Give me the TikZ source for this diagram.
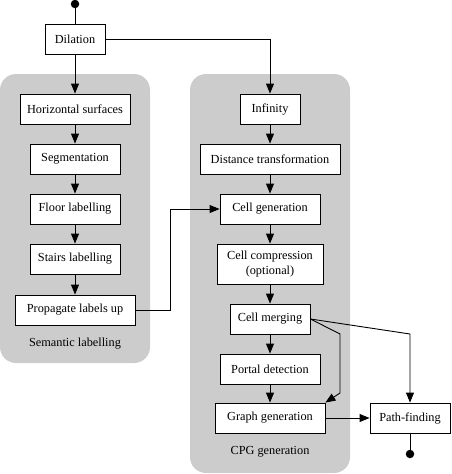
\documentclass[tikz,border=0pt]{standalone}
\usepackage{fontspec}
\setmainfont{Liberation Serif}
\newfontfamily\diagfont{Liberation Serif}
\usetikzlibrary{arrows.meta}
\begin{document}
\begin{tikzpicture}[x=1pt,y=-1pt,
  box/.style={draw, fill=white, line width=0.9pt, minimum height=30pt, inner sep=0pt, align=center, font=\diagfont\fontsize{12.3}{14.5}\selectfont},
  lbl/.style={font=\diagfont\fontsize{12.3}{14.5}\selectfont},
  panel/.style={fill=black!20, rounded corners=16pt},
  conn/.style={line width=0.9pt},
  arr/.style={conn, -{Triangle[length=10pt,width=8pt]}},
  dot/.style={circle, fill=black, inner sep=0pt, minimum size=8.5pt}]
\useasboundingbox (0,0) rectangle (451,474);
% panels
\fill[panel] (0,74) rectangle (150,363);
\fill[panel] (190,74) rectangle (350,473);
% nodes
\node[dot] (top) at (75,4) {};
\node[box, minimum width=60pt] (dil) at (75,39) {Dilation};
\node[box, minimum width=110pt] (hs) at (75,109) {Horizontal surfaces};
\node[box, minimum width=90pt] (seg) at (75,159) {Segmentation};
\node[box, minimum width=90pt] (fl) at (75,209) {Floor labelling};
\node[box, minimum width=90pt] (sl) at (75,259) {Stairs labelling};
\node[box, minimum width=120pt] (pl) at (75,310) {Propagate labels up};
\node[lbl] (sem) at (75,344) {Semantic labelling};
\node[box, minimum width=60pt] (inf) at (270,109) {Infinity};
\node[box, minimum width=140pt] (dt) at (270,159) {Distance transformation};
\node[box, minimum width=100pt] (cg) at (270,209) {Cell generation};
\node[box, minimum width=106pt, minimum height=40pt] (cc) at (270,264) {Cell compression\\(optional)};
\node[box, minimum width=80pt] (cm) at (270,319) {Cell merging};
\node[box, minimum width=100pt] (pd) at (270,369) {Portal detection};
\node[box, minimum width=110pt] (gg) at (270,418) {Graph generation};
\node[lbl] (cpg) at (270,452) {CPG generation};
\node[box, minimum width=80pt] (pf) at (410,418) {Path-finding};
\node[dot] (bot) at (410,454) {};
\coordinate (j1) at (170,310);
\coordinate (j2) at (170,209);
\coordinate (m1) at (340,334);
\coordinate (m2) at (340,393);
\coordinate (m3) at (410,334);
% connectors
\draw[conn] (top.center) -- (dil.north);
\draw[arr] (dil) -- (hs);
\draw[arr] (dil.east) -| (inf.north);
\draw[arr] (hs) -- (seg);
\draw[arr] (seg) -- (fl);
\draw[arr] (fl) -- (sl);
\draw[arr] (sl) -- (pl);
\draw[arr] (pl.east) -- (j1) -- (j2) -- (cg.west);
\draw[arr] (inf) -- (dt);
\draw[arr] (dt) -- (cg);
\draw[arr] (cg) -- (cc);
\draw[arr] (cc) -- (cm);
\draw[arr] (cm) -- (pd);
\draw[arr] (pd) -- (gg);
\draw[arr] (cm.east) -- (m1) -- (m2) -- (gg.north east);
\draw[arr] (cm.east) -- (m3) -- (pf.north);
\draw[arr] (gg) -- (pf);
\draw[conn] (pf.south) -- (bot.center);
\end{tikzpicture}
\end{document}
